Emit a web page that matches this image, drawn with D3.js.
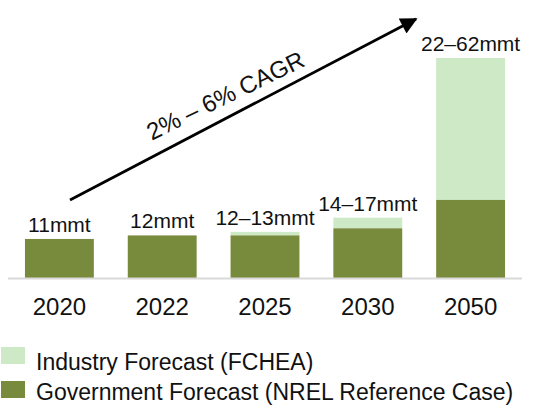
<!DOCTYPE html>
<html>
<head>
<meta charset="utf-8">
<script src="https://cdn.jsdelivr.net/npm/d3@7"></script>
<style>
  html, body { margin: 0; padding: 0; background: #fff; }
  svg { display: block; font-family: "Liberation Sans", Arial, sans-serif; }
</style>
</head>
<body>
<svg id="chart" width="537" height="406"></svg>
<script>
// ---- data ----
const years = ["2020", "2022", "2025", "2030", "2050"];
const government = [11, 12, 12, 14, 22];      // NREL reference case (mmt)
const industryTotal = [11, 12, 13, 17, 62];   // FCHEA upper forecast (mmt)
const valueLabels = ["11mmt", "12mmt", "12–13mmt", "14–17mmt", "22–62mmt"];
const seriesNames = ["Industry Forecast (FCHEA)", "Government Forecast (NREL Reference Case)"];
const cagrLabel = "2% – 6% CAGR";

const colors = { industry: "#cde9c5", government: "#788a3b" };

const svg = d3.select("#chart");

const x = d3.scaleBand().domain(years).range([8, 522]).paddingInner(0.33).paddingOuter(0.165);
const y = d3.scaleLinear().domain([0, 62]).range([278, 58]);

const rows = years.map((yr, i) => ({
  year: yr,
  gov: government[i],
  ind: industryTotal[i],
  label: valueLabels[i]
}));

// industry (light) bars: from government top to industry total
svg.append("g").selectAll("rect").data(rows).join("rect")
  .attr("x", d => x(d.year))
  .attr("width", x.bandwidth())
  .attr("y", d => y(d.ind))
  .attr("height", d => y(d.gov) - y(d.ind))
  .attr("fill", colors.industry);

// government (dark) bars
svg.append("g").selectAll("rect").data(rows).join("rect")
  .attr("x", d => x(d.year))
  .attr("width", x.bandwidth())
  .attr("y", d => y(d.gov))
  .attr("height", d => y(0) - y(d.gov))
  .attr("fill", colors.government);

// baseline axis
svg.append("line")
  .attr("x1", x.range()[0]).attr("x2", x.range()[1])
  .attr("y1", y(0) + 0.5).attr("y2", y(0) + 0.5)
  .attr("stroke", "#d9d9d9").attr("stroke-width", 2);

// value labels
svg.append("g").selectAll("text").data(rows).join("text")
  .attr("x", d => x(d.year) + x.bandwidth() / 2)
  .attr("y", d => y(d.ind) - 7)
  .attr("text-anchor", "middle")
  .attr("font-size", 21)
  .attr("fill", "#111")
  .text(d => d.label);

// year labels
svg.append("g").selectAll("text").data(rows).join("text")
  .attr("x", d => x(d.year) + x.bandwidth() / 2)
  .attr("y", 315)
  .attr("text-anchor", "middle")
  .attr("font-size", 24)
  .attr("fill", "#111")
  .text(d => d.year);

// CAGR arrow
const defs = svg.append("defs");
defs.append("marker")
  .attr("id", "arrowhead")
  .attr("viewBox", "0 0 10 10")
  .attr("refX", 9).attr("refY", 5)
  .attr("markerWidth", 6.5).attr("markerHeight", 6)
  .attr("markerUnits", "strokeWidth")
  .attr("orient", "auto")
  .append("path")
  .attr("d", "M0,0 L10,5 L0,10 Z")
  .attr("fill", "#000");

svg.append("line")
  .attr("x1", 70).attr("y1", 200)
  .attr("x2", 416).attr("y2", 19)
  .attr("stroke", "#000").attr("stroke-width", 2.8)
  .attr("marker-end", "url(#arrowhead)");

svg.append("text")
  .attr("transform", "translate(229,103) rotate(-26)")
  .attr("text-anchor", "middle")
  .attr("font-size", 24)
  .attr("fill", "#111")
  .text(cagrLabel);

// legend
const legend = svg.append("g");
const legendColors = [colors.industry, colors.government];
const legendY = [347, 381];
const legendBaseline = [370, 400];
legend.selectAll("rect").data(seriesNames).join("rect")
  .attr("x", 1).attr("y", (d, i) => legendY[i])
  .attr("width", 24).attr("height", 17)
  .attr("fill", (d, i) => legendColors[i]);
legend.selectAll("text").data(seriesNames).join("text")
  .attr("x", 36).attr("y", (d, i) => legendBaseline[i])
  .attr("font-size", 23)
  .attr("fill", "#111")
  .text(d => d);
</script>
</body>
</html>
